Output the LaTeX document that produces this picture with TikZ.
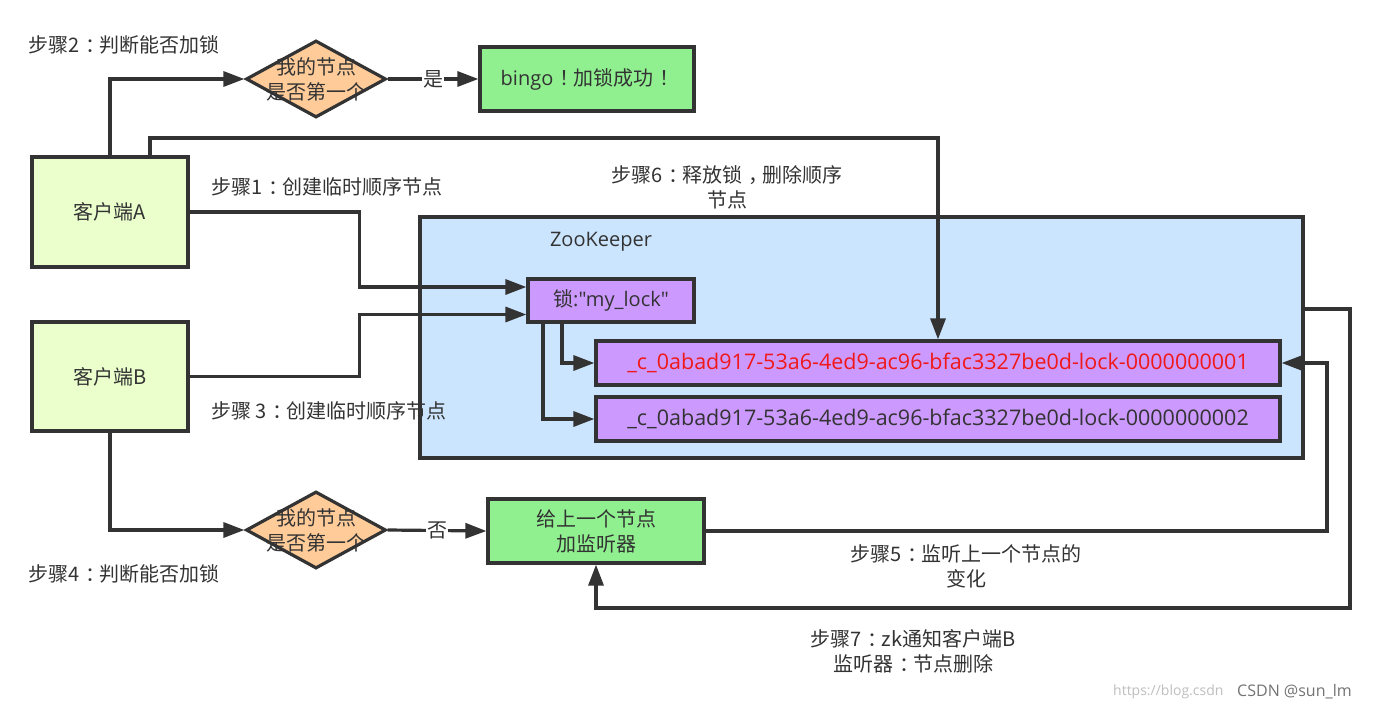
\documentclass[tikz,border=0pt]{standalone}
\usepackage{fontspec}
\setmainfont{Noto Sans CJK SC}
\newfontfamily\latf{Open Sans}
\usetikzlibrary{arrows.meta,shapes.geometric,calc}
\definecolor{linec}{HTML}{333333}
\definecolor{txtc}{HTML}{333333}
\definecolor{clientf}{HTML}{EAFFCC}
\definecolor{diamf}{HTML}{FFCC99}
\definecolor{greenf}{HTML}{90F090}
\definecolor{zkf}{HTML}{CCE5FF}
\definecolor{purf}{HTML}{CC99FF}
\definecolor{redt}{HTML}{F01818}
\newcommand\myfs{\fontsize{20}{25}\selectfont}
\newcommand\bigfs{\fontsize{21.5}{25}\selectfont}
\newcommand\cc{{\kern0.3em：\kern-0.3em}}
\newcommand\ex{{\kern0.3em！\kern-0.3em}}
\begin{document}
\begin{tikzpicture}[x=1pt,y=-1pt,
  every node/.style={font=\myfs, text=txtc},
  conn/.style={draw=linec, line width=3.2pt},
  arr/.style={conn, -{Triangle[length=21pt,width=15pt]}},
  boxn/.style={draw=linec, line width=3.2pt, inner sep=0pt, align=center},
  diam/.style={diamond, draw=linec, line width=3.2pt, fill=diamf, inner sep=0pt, minimum width=140pt, minimum height=77pt},
  lbl/.style={align=center, inner sep=0pt}
]
\useasboundingbox[fill=white] (0,0) rectangle (1386,712);

% zookeeper container
\node[boxn, fill=zkf, minimum width=883pt, minimum height=241pt] (zk) at (861.5,337.5) {};
\node[lbl, font=\myfs\latf] (zklabel) at (601,242) {ZooKeeper};

% clients
\node[boxn, fill=clientf, minimum width=156pt, minimum height=110pt] (A) at (110,212) {客户端A};
\node[boxn, fill=clientf, minimum width=156pt, minimum height=109pt] (B) at (110,376.5) {客户端B};

% diamonds
\node[diam, label={[lbl, align=center]center:我的节点\\是否第一个}] (d1) at (316,79) {};
\node[diam, label={[lbl, align=center]center:我的节点\\是否第一个}] (d2) at (316,530) {};

% green boxes
\node[boxn, fill=greenf, minimum width=214pt, minimum height=64pt] (bingo) at (587,79) {{\latf bingo}\ex 加锁成功\ex};
\node[boxn, fill=greenf, minimum width=216pt, minimum height=64pt] (L) at (596,531) {给上一个节点\\加监听器};

% zookeeper nodes
\node[boxn, fill=purf, minimum width=166pt, minimum height=43pt] (lock) at (611,300.5) {锁{\latf :"my\_lock"}};
\node[boxn, fill=purf, minimum width=684pt, minimum height=44pt, text=redt, font=\bigfs\latf] (n1) at (938,363) {\_c\_0abad917-53a6-4ed9-ac96-bfac3327be0d-lock-0000000001};
\node[boxn, fill=purf, minimum width=684pt, minimum height=44pt, font=\bigfs\latf] (n2) at (938,419) {\_c\_0abad917-53a6-4ed9-ac96-bfac3327be0d-lock-0000000002};

% coordinates for bends
\coordinate (c6) at (938,138);
\coordinate (r5) at (1327,363);
\coordinate (r7) at (1350,608);

% connectors
\draw[arr] (A.north) |- (d1.west);
\draw[arr] (d1.east) -- node[fill=white, inner sep=1pt] (yes) {是} (bingo.west);
\draw[arr] ([xshift=40pt]A.north) |- (c6) -- (n1.north);
\draw[arr] (A.east) -- ++(170,0) |- ([yshift=13.5pt]lock.west);
\draw[arr] (B.east) -- ++(170,0) |- ([yshift=-14pt]lock.west);
\draw[arr] ([xshift=-49pt]lock.south) |- (n1.west);
\draw[arr] ([xshift=-68pt]lock.south) |- (n2.west);
\draw[arr] (B.south) |- (d2.west);
\draw[arr] (d2.east) -- node[fill=white, inner sep=1pt] (no) {否} (L.west);
\draw[arr] (L.east) -| (r5) -- (n1.east);
\draw[arr] ([yshift=28.5pt]zk.east) -| (r7) -| (L.south);

% step labels
\node[lbl, anchor=west] (s2) at (28,45) {步骤2\cc 判断能否加锁};
\node[lbl, anchor=west] (s1) at (211,187) {步骤1\cc 创建临时顺序节点};
\node[lbl] (s6) at (727,187) {步骤6\cc 释放锁\kern0.3em，\kern-0.3em删除顺序\\节点};
\node[lbl, anchor=west] (s3) at (211,411) {步骤 3\cc 创建临时顺序节点};
\node[lbl, anchor=west] (s4) at (28,574) {步骤4\cc 判断能否加锁};
\node[lbl] (s5) at (966,566) {步骤5\cc 监听上一个节点的\\变化};
\node[lbl] (s7) at (913,651) {步骤7\cc zk通知客户端B\\监听器\cc 节点删除};

% watermark
\node[lbl, anchor=west, text=black!25, font=\fontsize{14}{16}\selectfont\latf] (wm1) at (1113,692) {https://blog.csdn};
\node[lbl, anchor=west, text=black!55, font=\fontsize{16}{18}\selectfont\latf] (wm2) at (1237,692) {CSDN @sun\_lm};
\end{tikzpicture}
\end{document}
